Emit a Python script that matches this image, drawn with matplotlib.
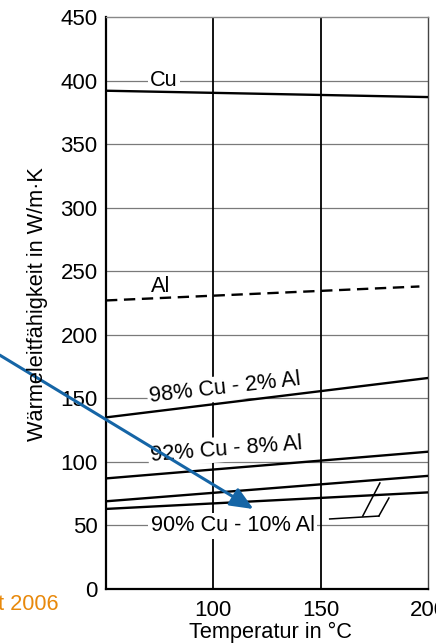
import matplotlib
matplotlib.use("Agg")
import matplotlib.pyplot as plt

plt.rcParams['font.family'] = ['Liberation Sans', 'DejaVu Sans']

# ---- data ----
temperature = [50, 200]
cu = [392, 387]
al_temperature = [50, 196]
al = [227, 238]
cu98_al2 = [135, 166]
cu92_al8 = [87, 108]
alloy_mid = [69, 89]
cu90_al10 = [63, 76]

y_ticks = [0, 50, 100, 150, 200, 250, 300, 350, 400, 450]
x_ticks = [100, 150, 200]

# curve labels: (text, x, y, rotation)
curve_labels = [
    ("Cu", 77.0, 400, 0),
    ("Al", 75.5, 238, 0),
    ("98% Cu - 2% Al", 105.5, 158, 6.5),
    ("92% Cu - 8% Al", 106.0, 110, 4.5),
    ("90% Cu - 10% Al", 109.0, 49.6, 0),
]

# leader lines pointing at the two lowest curves
leader_x = [154.2, 177.1]
leader_y = [55.1, 57.4]
leader1_x = [169.6, 177.6]
leader1_y = [57.4, 83.4]
leader2_x = [177.1, 181.8]
leader2_y = [57.4, 71.6]

# blue arrow (annotation)
arrow_start = (0.5, 184)
arrow_tip = (118.7, 62.9)

FS = 15.7

fig = plt.figure(figsize=(4.36, 6.44), dpi=100)
ax = fig.add_axes([106 / 436, 55 / 644, 322 / 436, 572 / 644])
ax.set_xlim(50, 200)
ax.set_ylim(0, 450)

for y in y_ticks[1:-1]:
    ax.axhline(y, color="#7a7a7a", lw=0.9, zorder=1)
for x in x_ticks[:-1]:
    ax.axvline(x, color="black", lw=1.3, zorder=1)

lw = 1.7
ax.plot(temperature, cu, color="black", lw=lw, zorder=4)
ax.plot(al_temperature, al, color="black", lw=lw, ls=(0, (4.8, 2.8)), zorder=4)
ax.plot(temperature, cu98_al2, color="black", lw=lw, zorder=4)
ax.plot(temperature, cu92_al8, color="black", lw=lw, zorder=4)
ax.plot(temperature, alloy_mid, color="black", lw=lw, zorder=4)
ax.plot(temperature, cu90_al10, color="black", lw=lw, zorder=4)

for lx, ly in [(leader_x, leader_y), (leader1_x, leader1_y), (leader2_x, leader2_y)]:
    ax.plot(lx, ly, color="black", lw=1.1, zorder=4)

for txt, x, y, rot in curve_labels:
    ax.text(x, y, txt, fontsize=FS, ha="center", va="center", rotation=rot,
            rotation_mode="anchor", zorder=3,
            bbox=dict(facecolor="white", edgecolor="none", pad=1.5))

ax.set_xticks(x_ticks)
ax.set_yticks(y_ticks)
ax.tick_params(length=0, labelsize=16)
ax.tick_params(axis="y", pad=6)
ax.tick_params(axis="x", pad=8)

for s in ["left", "bottom"]:
    ax.spines[s].set_color("black")
    ax.spines[s].set_linewidth(1.6)
ax.spines["top"].set_color("#888888")
ax.spines["top"].set_linewidth(1.0)
ax.spines["right"].set_color("#444444")
ax.spines["right"].set_linewidth(1.0)

fig.text(37 / 436, 1 - 304 / 644, "Wärmeleitfähigkeit in W/m·K", rotation=90,
         ha="center", va="center", fontsize=FS)
fig.text(270 / 436, 1 - 632 / 644, "Temperatur in °C", ha="center", va="center",
         fontsize=FS)

fig.text(-2 / 436, 1 - 605 / 644, "t 2006", color="#e8890c", ha="left",
         va="center", fontsize=FS)

ax.annotate("", xy=arrow_tip, xytext=arrow_start, xycoords="data",
            textcoords="data", annotation_clip=False,
            arrowprops=dict(arrowstyle="-|>,head_length=1.4,head_width=0.6",
                            color="#1565a6", lw=2.2, shrinkA=0, shrinkB=0),
            zorder=6)

fig.savefig("out.png", dpi=100)
